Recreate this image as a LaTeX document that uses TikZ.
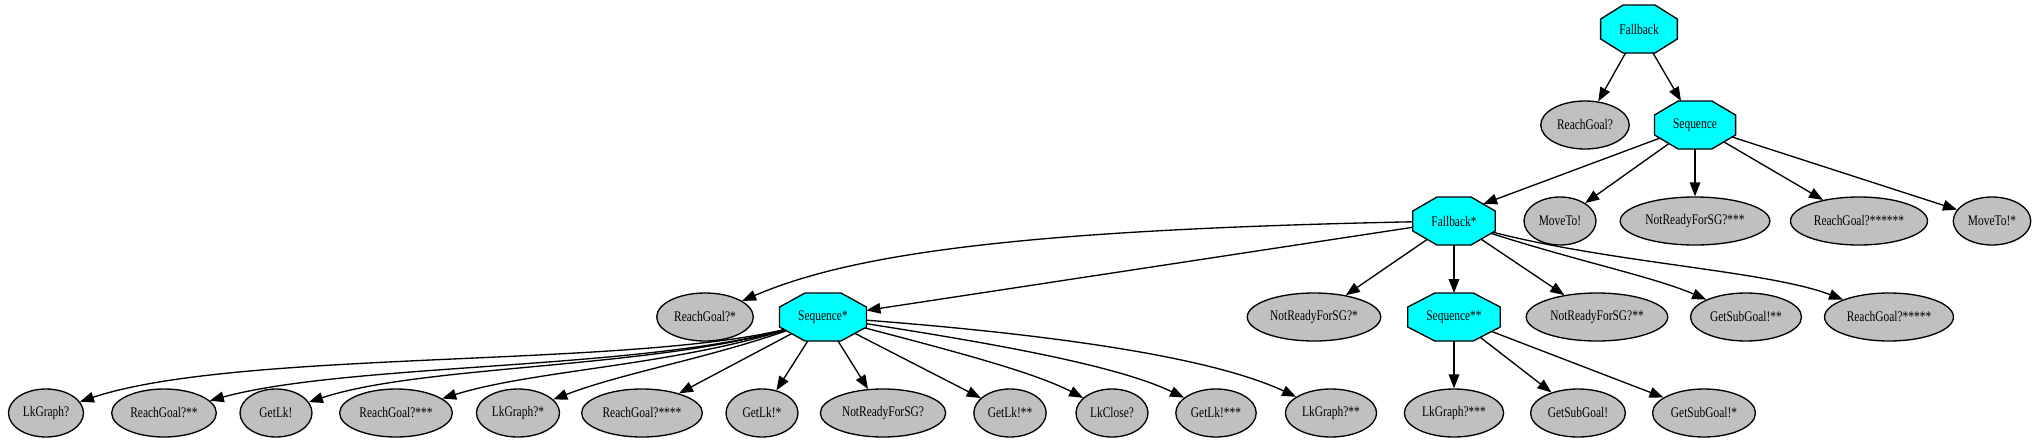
\documentclass[tikz,border=0pt]{standalone}
\usepackage{fontspec}
\setmainfont{Liberation Serif}[FakeStretch=0.78]
\usetikzlibrary{calc,arrows.meta,shapes.geometric}
\definecolor{octcyan}{RGB}{0,255,255}
\definecolor{leafgray}{RGB}{192,192,192}
\pgfdeclarelayer{edgelayer}
\pgfdeclarelayer{octlayer}
\pgfsetlayers{edgelayer,octlayer,main}
\begin{document}
\begin{tikzpicture}
[
 x=0.75pt, y=-0.75pt,
 every node/.style={font=\fontsize{11}{13}\selectfont},
 OCT/.style={rectangle, inner xsep=14pt, inner ysep=2pt, minimum height=36pt, outer sep=0pt},
 OCTFILL/.style={draw=black, fill=octcyan, line width=1pt, line join=miter},
 LEAF/.style={ellipse, draw=black, fill=leafgray, line width=1pt, inner xsep=2.5pt, inner ysep=1pt, minimum width=54pt, minimum height=36pt},
 EDGE/.style={draw=black, line width=1pt, -{Triangle[length=10.5pt,width=8pt]}},
 ]
\useasboundingbox (0,0) rectangle (2039,443);
%
\node [OCT]  (FB)   at (1639, 29)  {Fallback};
%
\node [LEAF] (RG)   at (1585,125)  {ReachGoal?};
\node [OCT]  (SQ)   at (1695,125)  {Sequence};
%
\node [OCT]  (FBa)  at (1454,221)  {Fallback*};
\node [LEAF] (MT)   at (1560,221)  {MoveTo!};
\node [LEAF] (NR3)  at (1695,221)  {NotReadyForSG?***};
\node [LEAF] (RG6)  at (1859,221)  {ReachGoal?******};
\node [LEAF] (MTa)  at (1992,221)  {MoveTo!*};
%
\node [LEAF] (RGa)  at ( 705,317)  {ReachGoal?*};
\node [OCT]  (SQa)  at ( 823,317)  {Sequence*};
\node [LEAF] (NR1)  at (1314,317)  {NotReadyForSG?*};
\node [OCT]  (SQb)  at (1454,317)  {Sequence**};
\node [LEAF] (NR2)  at (1597,317)  {NotReadyForSG?**};
\node [LEAF] (GSG2) at (1746,317)  {GetSubGoal!**};
\node [LEAF] (RG5)  at (1889,317)  {ReachGoal?*****};
%
\node [LEAF] (LG)   at (  46,413)  {LkGraph?};
\node [LEAF] (RG2)  at ( 164,413)  {ReachGoal?**};
\node [LEAF] (GL)   at ( 276,413)  {GetLk!};
\node [LEAF] (RG3)  at ( 396,413)  {ReachGoal?***};
\node [LEAF] (LG1)  at ( 518,413)  {LkGraph?*};
\node [LEAF] (RG4)  at ( 642,413)  {ReachGoal?****};
\node [LEAF] (GL1)  at ( 762,413)  {GetLk!*};
\node [LEAF] (NR)   at ( 883,413)  {NotReadyForSG?};
\node [LEAF] (GL2)  at (1010,413)  {GetLk!**};
\node [LEAF] (LC)   at (1112,413)  {LkClose?};
\node [LEAF] (GL3)  at (1216,413)  {GetLk!***};
\node [LEAF] (LG2)  at (1331,413)  {LkGraph?**};
\node [LEAF] (LG3)  at (1454,413)  {LkGraph?***};
\node [LEAF] (GS)   at (1578,413)  {GetSubGoal!};
\node [LEAF] (GS1)  at (1704,413)  {GetSubGoal!*};
%
\begin{pgfonlayer}{octlayer}
\foreach \n in {FB,SQ,FBa,SQa,SQb}
   {
     \draw [OCTFILL] ($(\n.north west)!0.2929!(\n.north east)$) -- ($(\n.north east)!0.2929!(\n.north west)$)
        -- ($(\n.north east)!0.2929!(\n.south east)$) -- ($(\n.south east)!0.2929!(\n.north east)$)
        -- ($(\n.south east)!0.2929!(\n.south west)$) -- ($(\n.south west)!0.2929!(\n.south east)$)
        -- ($(\n.south west)!0.2929!(\n.north west)$) -- ($(\n.north west)!0.2929!(\n.south west)$) -- cycle;
   }
\end{pgfonlayer}
%
\begin{pgfonlayer}{edgelayer}
\draw [EDGE]  (FB.center) -- (RG);
\draw [EDGE]  (FB.center) -- (SQ);
%
\draw [EDGE]  (SQ.center) -- ($(FBa.north east)!0.2929!(FBa.center)$);
\draw [EDGE]  (SQ.center) -- (MT);
\draw [EDGE]  (SQ.center) -- (NR3);
\draw [EDGE]  (SQ.center) -- (RG6);
\draw [EDGE]  (SQ.center) -- (MTa);
%
\draw [EDGE]  (FBa.center) .. controls (1050,228) and (860,250) .. (RGa);
\draw [EDGE]  (FBa.center) -- (SQa);
\draw [EDGE]  (FBa.center) -- (NR1);
\draw [EDGE]  (FBa.center) -- (SQb);
\draw [EDGE]  (FBa.center) -- (NR2);
\draw [EDGE]  (FBa.center) .. controls (1560,258) and (1650,275) .. (GSG2);
\draw [EDGE]  (FBa.center) .. controls (1580,262) and (1760,268) .. (RG5);
%
\draw [EDGE]  (SQa.center) .. controls (700,372) and (250,345) .. (LG);
\draw [EDGE]  (SQa.center) .. controls (690,372) and (360,360) .. (RG2);
\draw [EDGE]  (SQa.center) .. controls (690,370) and (430,362) .. (GL);
\draw [EDGE]  (SQa.center) .. controls (700,365) and (540,368) .. (RG3);
\draw [EDGE]  (SQa.center) .. controls (730,355) and (630,370) .. (LG1);
\draw [EDGE]  (SQa.center) -- (RG4);
\draw [EDGE]  (SQa.center) -- (GL1);
\draw [EDGE]  (SQa.center) -- (NR);
\draw [EDGE]  (SQa.center) -- (GL2);
\draw [EDGE]  (SQa.center) .. controls (930,345) and (1030,370) .. (LC);
\draw [EDGE]  (SQa.center) .. controls (960,338) and (1110,362) .. (GL3);
\draw [EDGE]  (SQa.center) .. controls (1010,330) and (1200,352) .. (LG2);
%
\draw [EDGE]  (SQb.center) -- (LG3);
\draw [EDGE]  (SQb.center) -- (GS);
\draw [EDGE]  (SQb.center) -- (GS1);
\end{pgfonlayer}
%
\end{tikzpicture}
\end{document}
